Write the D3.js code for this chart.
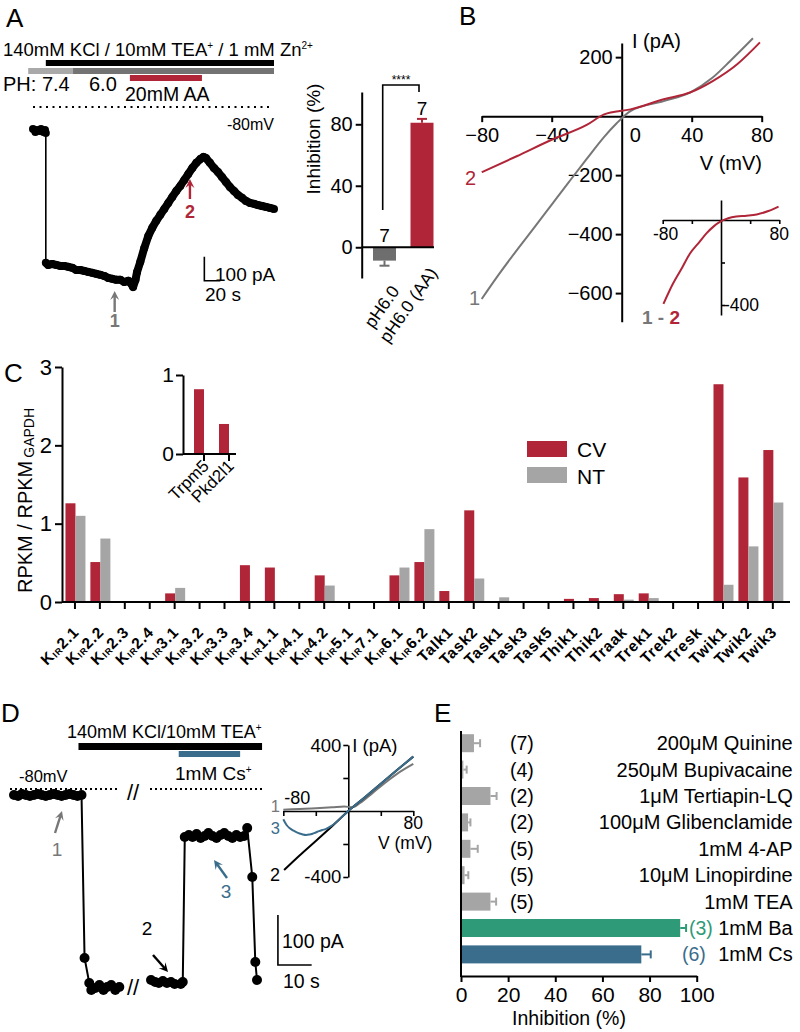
<!DOCTYPE html>
<meta charset="utf-8">
<head>
<script src="https://cdn.jsdelivr.net/npm/d3@7"></script>
<style>
  body { margin: 0; background: #fff; }
  svg { font-family: "Liberation Sans", Arial, sans-serif; }
  .axis path, .axis line { stroke: #000; stroke-width: 2; }
</style>
</head>
<body>
<script>
var FONT = "Liberation Sans, Arial, sans-serif";
var red = "#b02537", ntGray = "#a5a5a5", darkGray = "#6e6e6e", trGray = "#777777",
    csBlue = "#3a6d8c", baGreen = "#2f9a78";

// ---------- data ----------
// A: current at -80 mV over time (s, pA)
var aTime = [0,3,5,8,10,13,15,16,
  16,19,24,29,34,39,44,49,54,59,64,69,74,79,84,89,94,99,104,109,114,119,122,125,128,130,134,139,144,149,
  154,159,164,169,174,179,184,189,194,199,204,209,213,216,221,226,231,236,241,246,251,256,261,266,271,276,
  281,286,291,296,301];
var aCurr = [8,-4,4,0,8,-4,4,-8,
  -550,-559,-555,-559,-563,-563,-567,-571,-580,-580,-584,-588,-592,-596,-600,-605,-613,-617,-621,-621,
  -630,-625,-634,-651,-621,-588,-546,-488,-438,-404,-375,-350,-325,-300,-275,-250,-229,-204,-179,-154,
  -133,-117,-108,-113,-133,-154,-171,-192,-213,-234,-250,-267,-279,-292,-300,-304,-309,-313,-317,-321,-325];
var aJump = 8;
// A inset
var aiConds = ["pH6.0", "pH6.0 (AA)"];
var aiInhib = [-8.7, 81];
var aiErr = [3.3, 2.5];
var aiN = [7, 7];

// B: I-V curves (mV, pA)
var bV1 = [-80,-70,-60,-50,-40,-30,-20,-10,-3,5,24,39,52,62,75];
var bI1 = [-620,-535,-455,-378,-300,-222,-145,-70,-25,17,51,80,131,187,264];
var bV2 = [-80,-60,-40,-20,-10,5,24,39,52,66,79];
var bI2 = [-190,-136,-80,-30,6,23,57,80,119,176,250];
var bVd = [-79,-66,-53,-43,-30,-20,-10,-1,10,21,35,49,65,79];
var bId = [-395,-300,-222,-160,-105,-63,-30,-8,8,16,20,26,42,63];

// C: expression
var cGenes = ["Kir2.1","Kir2.2","Kir2.3","Kir2.4","Kir3.1","Kir3.2","Kir3.3","Kir3.4","Kir1.1","Kir4.1",
  "Kir4.2","Kir5.1","Kir7.1","Kir6.1","Kir6.2","Talk1","Task2","Task1","Task3","Task5","Thik1","Thik2",
  "Traak","Trek1","Trek2","Tresk","Twik1","Twik2","Twik3"];
var cvVals = [1.26,0.51,0,0,0.11,0,0,0.47,0.44,0,0.34,0,0,0.34,0.51,0.14,1.17,0,0,0,0.04,0.05,0.10,0.11,0,0,2.78,1.59,1.94];
var ntVals = [1.10,0.81,0,0,0.18,0,0,0,0,0,0.21,0,0,0.44,0.93,0,0.30,0.06,0,0,0,0,0.03,0.05,0,0,0.22,0.71,1.27];
var ciGenes = ["Trpm5", "Pkd2l1"];
var ciVals = [0.82, 0.38];

// D: current time course (s, pA), two segments split by the break
var dTime1 = [0.6,1.8,2.9,4.1,5.3,6.5,7.6,8.8,10,11.2,12.4,13.5,14.7,15.9,17.1,18.2,19.4,20.6,21.5,22.9,23.5,24.7,25.9,27.1,28.2,29.4,30.6,31.8];
var dCurr1 = [0,-2,2,0,-2,0,2,0,-2,0,2,0,-2,0,2,0,-2,0,-326,-376,-390,-386,-380,-390,-384,-380,-390,-384];
var dTime2 = [41.2,42.4,43.5,44.7,45.9,47.1,48.2,50,50.6,51.2,52.4,53.5,54.7,55.9,57.1,58.2,59.4,60.6,61.8,62.9,64.1,65.3,66.5,67.6,68.8,69.7,71.2,72.1,72.6];
var dCurr2 = [-370,-374,-376,-372,-376,-374,-378,-378,-374,-84,-80,-84,-78,-86,-82,-76,-82,-86,-80,-76,-82,-86,-80,-84,-82,-66,-164,-334,-370];
// D inset I-V
var dV1 = [-80,-60,-40,-20,-5,5,15,30,45,60,80];
var dI1 = [8,12,16,22,28,22,50,110,170,225,285];
var dV2 = [-79,-60,-40,-20,0,20,40,60,80];
var dI2 = [-358,-270,-182,-92,0,82,165,248,330];
var dV3 = [-80,-76,-72,-68,-64,-60,-56,-52,-48,-44,-40,-36,-32,-28,-20,0,20,40,60,80];
var dI3 = [-50,-85,-105,-118,-128,-136,-142,-145,-143,-138,-130,-122,-115,-110,-88,0,82,165,248,330];

// E: blockers
var drugs = ["200\u03bcM Quinine","250\u03bcM Bupivacaine","1\u03bcM Tertiapin-LQ","100\u03bcM Glibenclamide",
  "1mM 4-AP","10\u03bcM Linopirdine","1mM TEA","1mM Ba","1mM Cs"];
var eInhib = [5.5,1,12.5,3,4,1.5,12.5,93,76.5];
var eErr = [2.6,1.4,2.6,1,3.1,1.6,2.4,2.5,4];
var eN = [7,4,2,2,5,5,5,3,6];

// ---------- svg ----------
var svg = d3.select("body").append("svg").attr("width", 800).attr("height", 1032);

function txt(x, y, s, fs, opt) {
  opt = opt || {};
  return svg.append("text").attr("x", x).attr("y", y).attr("font-size", fs)
    .attr("text-anchor", opt.anchor || "start").attr("fill", opt.fill || "#000")
    .attr("font-weight", opt.bold ? "bold" : null).text(s);
}
function arrow(x1, y1, x2, y2, col) {
  var a = Math.atan2(y2 - y1, x2 - x1), L = 9, w = 4.5;
  svg.append("line").attr("x1", x1).attr("y1", y1).attr("x2", x2 - Math.cos(a) * 5).attr("y2", y2 - Math.sin(a) * 5)
    .attr("stroke", col).attr("stroke-width", 2.4);
  var p = [[x2, y2],
    [x2 - L * Math.cos(a) + w * Math.sin(a), y2 - L * Math.sin(a) - w * Math.cos(a)],
    [x2 - 0.6 * L * Math.cos(a), y2 - 0.6 * L * Math.sin(a)],
    [x2 - L * Math.cos(a) - w * Math.sin(a), y2 - L * Math.sin(a) + w * Math.cos(a)]];
  svg.append("polygon").attr("points", p.join(" ")).attr("fill", col);
}
function styleAxis(g, fs) { g.attr("class", "axis").attr("font-family", FONT).attr("font-size", fs); return g; }
function sup(t, s) { t.append("tspan").attr("font-size", 10).attr("dy", -7).text(s); }

// ================= Panel A =================
txt(6, 27, "A", 26);
var aT = txt(3, 56, "140mM KCl / 10mM TEA", 18.5);
sup(aT, "+");
aT.append("tspan").attr("dy", 7).text(" / 1 mM Zn");
sup(aT, "2+");

var ax = d3.scaleLinear().domain([0, 301]).range([33, 274]);
var ay = d3.scaleLinear().domain([0, -651]).range([131, 287]);

// solution bars (time in s)
svg.append("rect").attr("x", ax(16)).attr("y", 60).attr("width", ax(301) - ax(16)).attr("height", 6).attr("fill", "#000");
svg.append("rect").attr("x", ax(-6)).attr("y", 68).attr("width", ax(50) - ax(-6)).attr("height", 6).attr("fill", "#a9a9a9");
svg.append("rect").attr("x", ax(50)).attr("y", 68).attr("width", ax(301) - ax(50)).attr("height", 6).attr("fill", "#737373");
svg.append("rect").attr("x", ax(121)).attr("y", 75).attr("width", ax(211) - ax(121)).attr("height", 6).attr("fill", red);
txt(3, 91, "PH: 7.4", 20);
txt(89, 91, "6.0", 20);
txt(125, 101, "20mM AA", 19.5);
svg.append("line").attr("x1", 33).attr("x2", 272).attr("y1", 107).attr("y2", 107)
  .attr("stroke", "#000").attr("stroke-width", 2).attr("stroke-dasharray", "2,4.5");
txt(274, 130, "-80mV", 16, {anchor: "end"});

var aPts = aTime.map(function (t, i) { return [ax(t), ay(aCurr[i])]; });
var line = d3.line();
svg.append("path").attr("d", line(aPts)).attr("fill", "none").attr("stroke", "#000").attr("stroke-width", 1.6);
svg.append("path").attr("d", line(aPts.slice(0, aJump))).attr("fill", "none").attr("stroke", "#000").attr("stroke-width", 6).attr("stroke-linejoin", "round");
svg.append("path").attr("d", line(aPts.slice(aJump))).attr("fill", "none").attr("stroke", "#000").attr("stroke-width", 8).attr("stroke-linejoin", "round");
svg.append("g").selectAll("circle").data(aPts).enter().append("circle")
  .attr("cx", function (d) { return d[0]; }).attr("cy", function (d) { return d[1]; }).attr("r", 4).attr("fill", "#000");

arrow(ax(102), 312, ax(102), 291, trGray);
txt(ax(102), 327, "1", 18, {anchor: "middle", fill: trGray, bold: true});
arrow(ax(196), 199, ax(196), 179, red);
txt(ax(196), 218, "2", 18, {anchor: "middle", fill: red, bold: true});
// scale bar 100 pA / 20 s
svg.append("path").attr("d", "M" + ax(214) + "," + ay(-525) + "V" + ay(-625) + "H" + ax(234))
  .attr("fill", "none").attr("stroke", "#000").attr("stroke-width", 1.6);
txt(215, 281, "100 pA", 19);
txt(205, 301, "20 s", 19);

// ---- A inset bars ----
var aix = d3.scaleBand().domain(aiConds).range([365.75, 440.75]);
var aiy = d3.scaleLinear().domain([-20, 101]).range([278, 92]);
var aiCols = [darkGray, red];
aiConds.forEach(function (c, i) {
  var cx0 = aix(c) + aix.bandwidth() / 2, v = aiInhib[i], e = aiErr[i] * (v < 0 ? -1 : 1);
  svg.append("rect").attr("x", cx0 - 11.5).attr("width", 23)
    .attr("y", aiy(Math.max(0, v))).attr("height", Math.abs(aiy(v) - aiy(0))).attr("fill", aiCols[i]);
  svg.append("line").attr("x1", cx0).attr("x2", cx0).attr("y1", aiy(v)).attr("y2", aiy(v + e)).attr("stroke", aiCols[i]).attr("stroke-width", 2);
  svg.append("line").attr("x1", cx0 - 5).attr("x2", cx0 + 5).attr("y1", aiy(v + e)).attr("y2", aiy(v + e)).attr("stroke", aiCols[i]).attr("stroke-width", 2);
  txt(cx0, i === 0 ? aiy(0) - 5 : aiy(v + e) - 4, String(aiN[i]), 19, {anchor: "middle"});
});
styleAxis(svg.append("g").attr("transform", "translate(361.7,0)")
  .call(d3.axisLeft(aiy).tickValues([0, 40, 80]).tickSize(6).tickSizeOuter(0).tickPadding(3)), 20);
svg.append("line").attr("x1", 361.7).attr("x2", 434).attr("y1", aiy(0)).attr("y2", aiy(0)).attr("stroke", "#000").attr("stroke-width", 2);
svg.append("text").attr("transform", "translate(320,139) rotate(-90)").attr("text-anchor", "middle").attr("font-size", 19).text("Inhibition (%)");
svg.append("path").attr("d", "M382.7,210V85H419V92").attr("fill", "none").attr("stroke", "#000").attr("stroke-width", 1.6);
txt(401, 84, "****", 12, {anchor: "middle"});
svg.append("text").attr("transform", "translate(400,291) rotate(-55)").attr("text-anchor", "end").attr("font-size", 17.5).text(aiConds[0]);
svg.append("text").attr("transform", "translate(438,273) rotate(-55)").attr("text-anchor", "end").attr("font-size", 17.5).text(aiConds[1]);

// ================= Panel B =================
txt(459, 25, "B", 26);
var bx = d3.scaleLinear().domain([-80, 80]).range([481.7, 761.7]);
var by = d3.scaleLinear().domain([-697, 248]).range([321.7, 43]);
var gbx = styleAxis(svg.append("g").attr("transform", "translate(0," + by(0) + ")")
  .call(d3.axisBottom(bx).tickValues([-80, -40, 0, 40, 80]).tickSize(6).tickSizeOuter(0).tickPadding(6)), 20);
gbx.selectAll(".tick").filter(function (d) { return d === 0; }).select("line").remove();
gbx.selectAll(".tick text").filter(function (d) { return d === 0; }).attr("x", 13);
styleAxis(svg.append("g").attr("transform", "translate(" + bx(0) + ",0)")
  .call(d3.axisLeft(by).tickValues([-600, -400, -200, 200]).tickSize(6).tickSizeOuter(0).tickPadding(3)), 20);
txt(632, 48, "I (pA)", 20);
txt(762, 170, "V (mV)", 20, {anchor: "end"});
var bline = d3.line().curve(d3.curveMonotoneX).x(function (d) { return bx(d[0]); }).y(function (d) { return by(d[1]); });
svg.append("path").attr("d", bline(bV1.map(function (v, i) { return [v, bI1[i]]; })))
  .attr("fill", "none").attr("stroke", trGray).attr("stroke-width", 2);
svg.append("path").attr("d", bline(bV2.map(function (v, i) { return [v, bI2[i]]; })))
  .attr("fill", "none").attr("stroke", red).attr("stroke-width", 2);
txt(465, 185, "2", 20, {fill: red});
txt(469, 305, "1", 20, {fill: trGray});

// B inset
var bix = d3.scaleLinear().domain([-80, 80]).range([662.7, 779.3]);
var biy = d3.scaleLinear().domain([-447, 94]).range([315, 200]);
var gbix = styleAxis(svg.append("g").attr("transform", "translate(0," + biy(0) + ")")
  .call(d3.axisBottom(bix).tickValues([-80, -40, 40, 80]).tickSize(4).tickSizeOuter(0).tickFormat("")), 16);
var gbiy = styleAxis(svg.append("g").attr("transform", "translate(" + bix(0) + ",0)")
  .call(d3.axisRight(biy).tickValues([-400, -200]).tickSize(4).tickSizeOuter(0).tickFormat("")), 16);
gbix.selectAll("path,line").style("stroke-width", 1.6);
gbiy.selectAll("path,line").style("stroke-width", 1.6);
txt(bix(-80) + 3, 240, "-80", 17.5, {anchor: "middle"});
txt(bix(80), 240, "80", 17.5, {anchor: "middle"});
txt(bix(0) + 3, biy(-400) + 6, "-400", 17.5);
svg.append("path").attr("d", d3.line().curve(d3.curveMonotoneX).x(function (d) { return bix(d[0]); }).y(function (d) { return biy(d[1]); })(bVd.map(function (v, i) { return [v, bId[i]]; })))
  .attr("fill", "none").attr("stroke", red).attr("stroke-width", 2);
var bl = txt(642, 324, "1", 19, {bold: true, fill: trGray});
bl.append("tspan").text(" - ");
bl.append("tspan").attr("fill", red).text("2");

// ================= Panel C =================
txt(4, 382, "C", 26);
var cx = d3.scaleBand().domain(cGenes).range([62.5, 785.3]);
var cy = d3.scaleLinear().domain([0, 3]).range([602, 367]);
cGenes.forEach(function (g, i) {
  var c = cx(g) + cx.bandwidth() / 2;
  if (cvVals[i] > 0) svg.append("rect").attr("x", c - 9.5).attr("width", 10).attr("y", cy(cvVals[i])).attr("height", cy(0) - cy(cvVals[i])).attr("fill", red);
  if (ntVals[i] > 0) svg.append("rect").attr("x", c + 0.5).attr("width", 10).attr("y", cy(ntVals[i])).attr("height", cy(0) - cy(ntVals[i])).attr("fill", ntGray);
  var t = svg.append("text").attr("transform", "translate(" + (c + 5) + ",633) rotate(-45)")
    .attr("text-anchor", "end").attr("font-size", 15.5).attr("font-weight", "bold").attr("letter-spacing", 0.8);
  if (g.indexOf("Kir") === 0) {
    t.append("tspan").text("K");
    t.append("tspan").attr("font-size", 9).attr("dy", 1).text("IR");
    t.append("tspan").attr("dy", -1).text(g.slice(3));
  } else t.text(g);
});
var gcx = styleAxis(svg.append("g").attr("transform", "translate(0,602)")
  .call(d3.axisBottom(cx).tickSize(7).tickSizeOuter(0).tickFormat("")), 14);
gcx.select(".domain").attr("d", "M62,0H790");
styleAxis(svg.append("g").attr("transform", "translate(62,0)")
  .call(d3.axisLeft(cy).tickValues([0, 1, 2, 3]).tickFormat(d3.format("d")).tickSize(7).tickSizeOuter(0).tickPadding(3)), 22);
var cyl = svg.append("text").attr("transform", "translate(32,593) rotate(-90)").attr("font-size", 20).text("RPKM / RPKM");
cyl.append("tspan").attr("font-size", 14).attr("dy", 2).attr("dx", 3).text("GAPDH");
// legend
svg.append("rect").attr("x", 527).attr("y", 441).attr("width", 40).attr("height", 16).attr("fill", red);
svg.append("rect").attr("x", 527).attr("y", 467).attr("width", 40).attr("height", 16).attr("fill", ntGray);
txt(577, 457, "CV", 21);
txt(577, 484, "NT", 21);

// C inset
var cix = d3.scaleBand().domain(ciGenes).range([191.5, 241.5]);
var ciy = d3.scaleLinear().domain([0, 1]).range([454, 375]);
ciGenes.forEach(function (g, i) {
  var c = cix(g) + cix.bandwidth() / 2;
  svg.append("rect").attr("x", c - 10).attr("width", 10).attr("y", ciy(ciVals[i])).attr("height", ciy(0) - ciy(ciVals[i])).attr("fill", red);
  svg.append("text").attr("transform", "translate(" + (c + 6) + ",467) rotate(-45)").attr("text-anchor", "end")
    .attr("font-size", 17).text(g);
});
var gcix = styleAxis(svg.append("g").attr("transform", "translate(0,454)")
  .call(d3.axisBottom(cix).tickSize(7).tickSizeOuter(0).tickFormat("")), 14);
gcix.select(".domain").attr("d", "M183,0H236");
styleAxis(svg.append("g").attr("transform", "translate(183,0)")
  .call(d3.axisLeft(ciy).tickValues([0, 1]).tickFormat(d3.format("d")).tickSize(7).tickSizeOuter(0).tickPadding(2)), 21);

// ================= Panel D =================
txt(1, 722, "D", 26);
var dx = d3.scaleLinear().domain([0, 72.6]).range([12, 257]);
var dy = d3.scaleLinear().domain([0, -390]).range([795, 990]);
var dT = txt(67, 738, "140mM KCl/10mM TEA", 18);
sup(dT, "+");
svg.append("rect").attr("x", dx(19.7)).attr("y", 743).attr("width", dx(74.1) - dx(19.7)).attr("height", 7).attr("fill", "#000");
svg.append("rect").attr("x", dx(49.4)).attr("y", 751).attr("width", dx(67.6) - dx(49.4)).attr("height", 6).attr("fill", csBlue);
var csT = txt(175, 780, "1mM Cs", 19);
sup(csT, "+");
txt(19, 782, "-80mV", 16.5);
[[10, 120], [150, 262]].forEach(function (s) {
  svg.append("line").attr("x1", s[0]).attr("x2", s[1]).attr("y1", 789).attr("y2", 789)
    .attr("stroke", "#000").attr("stroke-width", 2).attr("stroke-dasharray", "2,3");
});
txt(133, 800, "//", 22, {anchor: "middle"});
txt(133, 995, "//", 22, {anchor: "middle"});

[[dTime1, dCurr1], [dTime2, dCurr2]].forEach(function (s) {
  var pts = s[0].map(function (t, i) { return [dx(t), dy(s[1][i])]; });
  svg.append("path").attr("d", d3.line()(pts)).attr("fill", "none").attr("stroke", "#000").attr("stroke-width", 2);
  svg.append("g").selectAll("circle").data(pts).enter().append("circle")
    .attr("cx", function (d) { return d[0]; }).attr("cy", function (d) { return d[1]; }).attr("r", 5).attr("fill", "#000");
});
arrow(55, 833, 62, 811, trGray);
txt(57, 856, "1", 19, {anchor: "middle", fill: trGray});
arrow(153, 955, 168, 972, "#000");
txt(147, 935, "2", 19, {anchor: "middle"});
arrow(227, 878, 214, 860, csBlue);
txt(226, 898, "3", 19, {anchor: "middle", fill: csBlue});
svg.append("path").attr("d", "M" + dx(78.8) + "," + dy(-240) + "V" + dy(-340) + "H" + dx(88.8))
  .attr("fill", "none").attr("stroke", "#000").attr("stroke-width", 1.6);
txt(282, 948, "100 pA", 19.5);
txt(283, 988, "10 s", 19.5);

// D inset
var dix = d3.scaleLinear().domain([-80, 80]).range([283.3, 413.3]);
var diy = d3.scaleLinear().domain([-400, 400]).range([877, 745]);
var gdix = styleAxis(svg.append("g").attr("transform", "translate(0," + diy(0) + ")")
  .call(d3.axisBottom(dix).tickValues([-80, -40, 40, 80]).tickSize(5).tickSizeOuter(0).tickFormat("")), 16);
var gdiy = styleAxis(svg.append("g").attr("transform", "translate(" + dix(0) + ",0)")
  .call(d3.axisLeft(diy).tickValues([-400, -200, 200, 400]).tickSize(5).tickSizeOuter(0).tickFormat("")), 16);
gdix.selectAll("path,line").style("stroke-width", 1.6);
gdiy.selectAll("path,line").style("stroke-width", 1.6);
txt(dix(0) - 7, diy(400) + 7, "400", 18.5, {anchor: "end"});
txt(dix(0) - 7, diy(-400) + 6, "-400", 18.5, {anchor: "end"});
txt(dix(0) + 4, diy(400) + 7, "I (pA)", 18.5);
txt(dix(-80) + 14, 804, "-80", 18, {anchor: "middle"});
txt(dix(80), 829, "80", 17.5, {anchor: "middle"});
txt(378, 849, "V (mV)", 17.5);
var dline = d3.line().curve(d3.curveMonotoneX).x(function (d) { return dix(d[0]); }).y(function (d) { return diy(d[1]); });
[[dV1, dI1, trGray], [dV2, dI2, "#000"], [dV3, dI3, csBlue]].forEach(function (s) {
  svg.append("path").attr("d", dline(s[0].map(function (v, i) { return [v, s[1][i]]; })))
    .attr("fill", "none").attr("stroke", s[2]).attr("stroke-width", 2);
});
txt(280, 812, "1", 16.5, {fill: trGray, anchor: "end"});
txt(280, 834, "3", 16.5, {fill: csBlue, anchor: "end"});
txt(280, 881, "2", 18, {anchor: "end"});

// ================= Panel E =================
txt(434, 722, "E", 26);
var ex = d3.scaleLinear().domain([0, 100]).range([461, 696.7]);
var ey = d3.scaleBand().domain(drugs).range([730, 967.6]);
var eCols = drugs.map(function (d, i) { return i === 7 ? baGreen : (i === 8 ? csBlue : ntGray); });
drugs.forEach(function (d, i) {
  var c = ey(d) + ey.bandwidth() / 2, col = eCols[i], xe = ex(eInhib[i] + eErr[i]);
  svg.append("rect").attr("x", ex(0)).attr("y", c - 9).attr("width", ex(eInhib[i]) - ex(0)).attr("height", 18).attr("fill", col);
  svg.append("line").attr("x1", ex(eInhib[i])).attr("x2", xe).attr("y1", c).attr("y2", c).attr("stroke", col).attr("stroke-width", 2);
  svg.append("line").attr("x1", xe).attr("x2", xe).attr("y1", c - 4).attr("y2", c + 4).attr("stroke", col).attr("stroke-width", 2);
  if (i < 7) txt(510, c + 7, "(" + eN[i] + ")", 19.5);
  else txt(i === 7 ? 689 : 682, c + 7, "(" + eN[i] + ")", 19.5, {fill: col});
  txt(792.7, c + 7, d, 20, {anchor: "end"});
});
styleAxis(svg.append("g").attr("transform", "translate(0,976)")
  .call(d3.axisBottom(ex).tickValues([0, 20, 40, 60, 80, 100]).tickSize(6).tickSizeOuter(0).tickPadding(5)), 21);
svg.append("line").attr("x1", 461).attr("x2", 461).attr("y1", 731).attr("y2", 977).attr("stroke", "#000").attr("stroke-width", 2);
txt(569, 1025, "Inhibition (%)", 19.5, {anchor: "middle"});
</script>
</body>
